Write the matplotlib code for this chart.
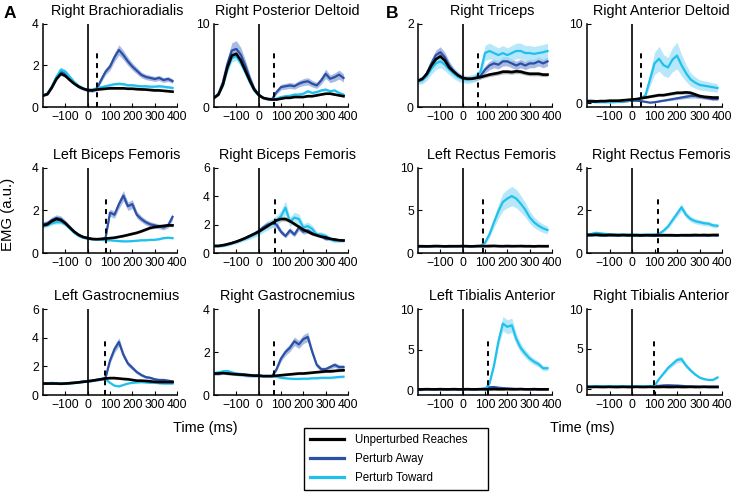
import numpy as np
import matplotlib.pyplot as plt
from matplotlib.lines import Line2D

plt.rcParams['font.family'] = ['Liberation Sans', 'DejaVu Sans']

# time axis (ms), one point every 20 ms
time_ms = [-200, -180, -160, -140, -120, -100, -80, -60, -40, -20,
           0, 20, 40, 60, 80, 100, 120, 140, 160, 180,
           200, 220, 240, 260, 280, 300, 320, 340, 360, 380]

# --- Right Brachioradialis
rbr_black = [0.55, 0.62, 0.95, 1.35, 1.6, 1.5, 1.3, 1.12, 0.98, 0.88, 0.82, 0.8, 0.84, 0.86, 0.88,
             0.9, 0.9, 0.9, 0.9, 0.88, 0.88, 0.86, 0.85, 0.84, 0.82, 0.8, 0.8, 0.78, 0.76, 0.74]
rbr_away = [0.55, 0.62, 0.95, 1.4, 1.72, 1.62, 1.38, 1.15, 0.98, 0.88, 0.8, 0.78, 0.85, 1.3, 1.7,
            1.95, 2.4, 2.75, 2.5, 2.2, 1.95, 1.75, 1.55, 1.45, 1.4, 1.35, 1.4, 1.3, 1.35, 1.25]
rbr_toward = [0.55, 0.65, 1.0, 1.45, 1.8, 1.7, 1.45, 1.2, 1.02, 0.9, 0.82, 0.84, 0.9, 0.95, 1.0,
              1.05, 1.1, 1.12, 1.1, 1.05, 1.05, 1.02, 1.0, 1.0, 0.98, 0.98, 1.0, 0.98, 0.95, 0.92]
rbr_rel_sem = [0.05, 0.09, 0.07]

# --- Right Posterior Deltoid
rpd_black = [1.1, 1.5, 2.7, 4.8, 6.2, 6.4, 5.6, 4.4, 3.2, 2.1, 1.45, 1.1, 0.95, 0.9, 0.9,
             1.0, 1.1, 1.1, 1.2, 1.2, 1.2, 1.3, 1.3, 1.4, 1.5, 1.6, 1.6, 1.5, 1.4, 1.3]
rpd_away = [1.1, 1.6, 3.0, 5.2, 6.8, 7.0, 6.3, 5.0, 3.5, 2.2, 1.5, 1.1, 1.0, 0.95, 1.8,
            2.4, 2.5, 2.6, 2.5, 2.8, 3.0, 3.1, 2.8, 2.6, 3.2, 4.0, 3.4, 3.6, 3.9, 3.5]
rpd_toward = [1.1, 1.5, 2.6, 4.5, 5.9, 6.1, 5.3, 4.2, 3.0, 2.0, 1.4, 1.1, 0.95, 0.9, 1.0,
              1.2, 1.3, 1.35, 1.5, 1.5, 1.6, 1.9, 1.7, 1.8, 2.0, 2.1, 1.9, 2.0, 1.7, 1.5]
rpd_rel_sem = [0.06, 0.14, 0.08]

# --- Right Triceps
rt_black = [0.63, 0.68, 0.8, 1.0, 1.15, 1.22, 1.12, 0.95, 0.85, 0.76, 0.7, 0.68, 0.68, 0.7, 0.72,
            0.75, 0.78, 0.8, 0.82, 0.85, 0.85, 0.84, 0.86, 0.85, 0.82, 0.8, 0.8, 0.8, 0.78, 0.78]
rt_away = [0.63, 0.66, 0.82, 1.05, 1.25, 1.32, 1.2, 1.0, 0.86, 0.76, 0.7, 0.68, 0.68, 0.7, 0.75,
           0.9, 1.0, 1.05, 1.02, 1.1, 1.1, 1.05, 1.0, 1.05, 1.0, 1.05, 1.05, 1.1, 1.05, 1.1]
rt_toward = [0.63, 0.65, 0.75, 0.92, 1.05, 1.1, 1.02, 0.9, 0.8, 0.72, 0.68, 0.66, 0.68, 0.72, 0.85,
             1.3, 1.35, 1.3, 1.25, 1.3, 1.25, 1.3, 1.35, 1.35, 1.3, 1.3, 1.28, 1.3, 1.32, 1.35]
rt_rel_sem = [0.06, 0.1, 0.14]

# --- Right Anterior Deltoid
rad_black = [0.2, 0.2, 0.2, 0.25, 0.25, 0.3, 0.3, 0.3, 0.35, 0.4, 0.45, 0.5, 0.6, 0.7, 0.8,
             0.9, 1.0, 1.0, 1.1, 1.2, 1.3, 1.3, 1.35, 1.3, 1.1, 0.9, 0.8, 0.75, 0.7, 0.7]
rad_away = [0.3, 0.3, 0.25, 0.2, 0.2, 0.15, 0.2, 0.2, 0.2, 0.25, 0.3, 0.3, 0.25, 0.15, 0.05,
            0.1, 0.2, 0.3, 0.4, 0.5, 0.6, 0.7, 0.8, 0.9, 0.9, 0.8, 0.7, 0.6, 0.5, 0.5]
rad_toward = [0.2, 0.15, 0.1, 0.1, 0.1, 0.1, 0.1, 0.15, 0.2, 0.25, 0.35, 0.45, 0.6, 1.0, 3.0,
              5.0, 5.6, 4.8, 4.5, 5.5, 6.0, 4.8, 3.8, 3.0, 2.6, 2.3, 2.2, 2.1, 2.0, 1.9]
rad_rel_sem = [0.15, 0.3, 0.28]

# --- Left Biceps Femoris
lbf_black = [1.3, 1.35, 1.5, 1.6, 1.55, 1.4, 1.2, 1.0, 0.85, 0.75, 0.7, 0.66, 0.65, 0.66, 0.68,
             0.7, 0.72, 0.76, 0.8, 0.85, 0.9, 0.95, 1.02, 1.1, 1.18, 1.22, 1.25, 1.28, 1.3, 1.3]
lbf_away = [1.35, 1.4, 1.55, 1.65, 1.6, 1.42, 1.2, 1.0, 0.85, 0.75, 0.7, 0.66, 0.65, 0.66, 0.7,
            1.9, 1.8, 2.3, 2.7, 2.2, 2.3, 1.8, 1.6, 1.45, 1.35, 1.3, 1.25, 1.2, 1.3, 1.7]
lbf_toward = [1.25, 1.3, 1.4, 1.45, 1.45, 1.35, 1.15, 0.95, 0.8, 0.72, 0.68, 0.65, 0.64, 0.62, 0.6,
              0.6, 0.58, 0.56, 0.55, 0.55, 0.56, 0.58, 0.6, 0.6, 0.62, 0.62, 0.65, 0.7, 0.72, 0.7]
lbf_rel_sem = [0.05, 0.09, 0.06]

# --- Right Biceps Femoris
rbf_black = [0.5, 0.5, 0.55, 0.62, 0.7, 0.8, 0.92, 1.05, 1.2, 1.35, 1.5, 1.7, 1.9, 2.1, 2.3,
             2.4, 2.4, 2.25, 2.05, 1.85, 1.65, 1.5, 1.35, 1.25, 1.15, 1.1, 1.0, 0.95, 0.9, 0.88]
rbf_away = [0.5, 0.5, 0.52, 0.6, 0.7, 0.8, 0.92, 1.05, 1.2, 1.35, 1.55, 1.8, 2.0, 2.1, 2.0,
            1.5, 1.2, 1.6, 1.3, 1.8, 1.5, 1.6, 1.4, 1.3, 1.2, 1.0, 1.0, 0.95, 0.9, 0.9]
rbf_toward = [0.48, 0.48, 0.5, 0.58, 0.68, 0.78, 0.9, 1.02, 1.15, 1.3, 1.45, 1.7, 1.9, 2.1, 2.3,
              2.6, 3.2, 2.2, 2.5, 2.4, 1.8, 1.9, 1.7, 1.3, 1.3, 1.2, 1.0, 0.85, 0.9, 0.9]
rbf_rel_sem = [0.06, 0.12, 0.15]

# --- Left Rectus Femoris
lrf_black = [0.8, 0.8, 0.78, 0.8, 0.82, 0.8, 0.78, 0.8, 0.8, 0.8, 0.82, 0.8, 0.78, 0.8, 0.82,
             0.8, 0.8, 0.82, 0.8, 0.8, 0.82, 0.8, 0.8, 0.82, 0.8, 0.8, 0.78, 0.8, 0.8, 0.8]
lrf_away = [0.78, 0.75, 0.8, 0.78, 0.8, 0.82, 0.8, 0.78, 0.8, 0.8, 0.8, 0.8, 0.8, 0.82, 0.8,
            0.82, 0.85, 0.85, 0.82, 0.8, 0.8, 0.8, 0.82, 0.8, 0.8, 0.8, 0.8, 0.82, 0.8, 0.8]
lrf_toward = [0.8, 0.8, 0.82, 0.8, 0.82, 0.8, 0.8, 0.82, 0.8, 0.8, 0.8, 0.8, 0.8, 0.82, 0.85,
              1.2, 2.2, 3.6, 4.9, 6.0, 6.4, 6.7, 6.4, 5.8, 5.1, 4.2, 3.6, 3.2, 2.9, 2.7]
lrf_rel_sem = [0.05, 0.06, 0.17]

# --- Right Rectus Femoris
rrf_black = [0.85, 0.85, 0.86, 0.85, 0.84, 0.85, 0.85, 0.84, 0.85, 0.84, 0.84, 0.84, 0.83, 0.84, 0.84,
             0.83, 0.84, 0.84, 0.84, 0.84, 0.83, 0.84, 0.84, 0.84, 0.85, 0.84, 0.85, 0.84, 0.85, 0.85]
rrf_away = [0.82, 0.83, 0.84, 0.82, 0.82, 0.83, 0.82, 0.82, 0.83, 0.82, 0.82, 0.82, 0.82, 0.83, 0.82,
            0.82, 0.82, 0.83, 0.82, 0.82, 0.82, 0.83, 0.82, 0.82, 0.82, 0.83, 0.82, 0.82, 0.83, 0.82]
rrf_toward = [0.88, 0.9, 0.95, 0.92, 0.9, 0.88, 0.86, 0.86, 0.86, 0.86, 0.86, 0.86, 0.86, 0.86, 0.86,
              0.88, 0.9, 1.05, 1.25, 1.55, 1.85, 2.15, 1.8, 1.6, 1.5, 1.45, 1.4, 1.38, 1.3, 1.28]
rrf_rel_sem = [0.04, 0.04, 0.08]

# --- Left Gastrocnemius
lg_black = [0.8, 0.8, 0.8, 0.8, 0.78, 0.8, 0.82, 0.85, 0.88, 0.92, 0.95, 1.0, 1.05, 1.1, 1.15,
            1.18, 1.18, 1.15, 1.12, 1.1, 1.05, 1.0, 1.0, 0.98, 0.95, 0.92, 0.9, 0.9, 0.9, 0.9]
lg_away = [0.8, 0.8, 0.82, 0.8, 0.8, 0.82, 0.84, 0.86, 0.9, 0.94, 0.98, 1.0, 1.05, 1.1, 1.2,
           2.4, 3.2, 3.7, 2.8, 2.2, 1.9, 1.6, 1.4, 1.25, 1.2, 1.1, 1.05, 1.05, 1.0, 0.95]
lg_toward = [0.82, 0.82, 0.85, 0.82, 0.8, 0.8, 0.82, 0.84, 0.88, 0.92, 0.95, 1.0, 1.05, 1.08, 1.1,
             0.85, 0.65, 0.6, 0.7, 0.8, 0.85, 0.88, 0.9, 0.88, 0.85, 0.85, 0.82, 0.8, 0.8, 0.8]
lg_rel_sem = [0.06, 0.08, 0.06]

# --- Right Gastrocnemius
rg_black = [1.0, 1.0, 1.02, 1.0, 0.98, 0.96, 0.95, 0.94, 0.92, 0.9, 0.9, 0.88, 0.88, 0.88, 0.9,
            0.92, 0.94, 0.96, 0.98, 1.0, 1.0, 1.02, 1.04, 1.06, 1.08, 1.1, 1.1, 1.12, 1.14, 1.15]
rg_away = [1.0, 1.0, 1.05, 1.02, 1.0, 0.98, 0.95, 0.92, 0.9, 0.9, 0.9, 0.88, 0.88, 0.88, 1.2,
           1.7, 2.0, 2.2, 2.5, 2.35, 2.6, 2.7, 2.0, 1.4, 1.2, 1.2, 1.3, 1.4, 1.3, 1.3]
rg_toward = [1.02, 1.05, 1.1, 1.12, 1.05, 1.0, 0.98, 0.95, 0.92, 0.9, 0.9, 0.88, 0.88, 0.88, 0.85,
             0.8, 0.78, 0.76, 0.75, 0.75, 0.76, 0.76, 0.78, 0.78, 0.8, 0.8, 0.8, 0.82, 0.84, 0.85]
rg_rel_sem = [0.05, 0.08, 0.06]

# --- Left Tibialis Anterior
lta_black = [0.1, 0.1, 0.12, 0.1, 0.1, 0.12, 0.1, 0.1, 0.12, 0.1, 0.1, 0.12, 0.1, 0.1, 0.12,
             0.1, 0.1, 0.12, 0.1, 0.1, 0.12, 0.1, 0.1, 0.12, 0.1, 0.1, 0.12, 0.1, 0.1, 0.1]
lta_away = [0.1, 0.1, 0.1, 0.12, 0.1, 0.1, 0.1, 0.12, 0.1, 0.1, 0.1, 0.12, 0.1, 0.1, 0.12,
            0.2, 0.35, 0.38, 0.3, 0.25, 0.2, 0.18, 0.15, 0.15, 0.12, 0.12, 0.1, 0.1, 0.1, 0.1]
lta_toward = [0.1, 0.1, 0.1, 0.1, 0.1, 0.1, 0.1, 0.1, 0.1, 0.1, 0.1, 0.1, 0.1, 0.1, 0.1,
              0.1, 0.8, 3.0, 6.0, 8.2, 7.8, 8.0, 6.3, 5.2, 4.5, 3.9, 3.5, 3.2, 2.7, 2.7]
lta_rel_sem = [0.5, 0.5, 0.11]

# --- Right Tibialis Anterior
rta_black = [0.2, 0.2, 0.22, 0.2, 0.2, 0.22, 0.2, 0.2, 0.22, 0.2, 0.2, 0.22, 0.2, 0.2, 0.22,
             0.2, 0.2, 0.22, 0.2, 0.2, 0.22, 0.2, 0.2, 0.22, 0.2, 0.2, 0.22, 0.2, 0.2, 0.2]
rta_away = [0.25, 0.25, 0.25, 0.27, 0.25, 0.25, 0.25, 0.27, 0.25, 0.25, 0.25, 0.27, 0.25, 0.25, 0.27,
            0.3, 0.35, 0.4, 0.42, 0.4, 0.38, 0.35, 0.3, 0.28, 0.27, 0.25, 0.25, 0.25, 0.25, 0.25]
rta_toward = [0.3, 0.3, 0.3, 0.3, 0.3, 0.3, 0.3, 0.3, 0.3, 0.3, 0.3, 0.3, 0.3, 0.3, 0.3,
              0.35, 1.2, 1.9, 2.6, 3.1, 3.6, 3.7, 2.9, 2.3, 1.8, 1.4, 1.2, 1.1, 1.1, 1.4]
rta_rel_sem = [0.3, 0.3, 0.1]

titles = ["Right Brachioradialis", "Right Posterior Deltoid", "Right Triceps", "Right Anterior Deltoid",
          "Left Biceps Femoris", "Right Biceps Femoris", "Left Rectus Femoris", "Right Rectus Femoris",
          "Left Gastrocnemius", "Right Gastrocnemius", "Left Tibialis Anterior", "Right Tibialis Anterior"]
black_traces = [rbr_black, rpd_black, rt_black, rad_black, lbf_black, rbf_black,
                lrf_black, rrf_black, lg_black, rg_black, lta_black, rta_black]
away_traces = [rbr_away, rpd_away, rt_away, rad_away, lbf_away, rbf_away,
               lrf_away, rrf_away, lg_away, rg_away, lta_away, rta_away]
toward_traces = [rbr_toward, rpd_toward, rt_toward, rad_toward, lbf_toward, rbf_toward,
                 lrf_toward, rrf_toward, lg_toward, rg_toward, lta_toward, rta_toward]
rel_sems = [rbr_rel_sem, rpd_rel_sem, rt_rel_sem, rad_rel_sem, lbf_rel_sem, rbf_rel_sem,
            lrf_rel_sem, rrf_rel_sem, lg_rel_sem, rg_rel_sem, lta_rel_sem, rta_rel_sem]
y_limits = [(0, 4), (0, 10), (0, 2), (-0.5, 10), (0, 4), (0, 6),
            (0, 10), (0, 4), (0, 6), (0, 4), (-0.6, 10), (-0.8, 10)]
y_ticks = [[0, 2, 4], [0, 10], [0, 2], [0, 10], [0, 2, 4], [0, 2, 4, 6],
           [0, 5, 10], [0, 2, 4], [0, 2, 4, 6], [0, 2, 4], [0, 5, 10], [0, 5, 10]]
dash_ms = [40, 70, 70, 40, 80, 75, 93, 115, 78, 68, 112, 98]
x_ticks = [-100, 0, 100, 200, 300, 400]

legend_labels = ["Unperturbed Reaches", "Perturb Away", "Perturb Toward"]

C_BLACK, C_AWAY, C_TOWARD = "#000000", "#2c50a5", "#1ec1ee"
B_BLACK, B_AWAY, B_TOWARD = "#9c9c9c", "#8ea5da", "#9fe0f6"

W, H = 737, 494
fig = plt.figure(figsize=(W / 100, H / 100), dpi=100)

# axes boxes in pixels: (left, right) per column, (top, bottom) per row
cols = [(43, 177), (214, 348), (418, 552), (587, 722)]
rows = [(24, 107), (168, 253), (309, 395)]

t = np.array(time_ms)
for i in range(12):
    r, c = divmod(i, 4)
    x0, x1 = cols[c]
    y0, y1 = rows[r]
    ax = fig.add_axes([x0 / W, 1 - y1 / H, (x1 - x0) / W, (y1 - y0) / H])

    rb, ra, rt = rel_sems[i]
    for vals, s, bc in [(black_traces[i], rb, B_BLACK), (away_traces[i], ra, B_AWAY),
                        (toward_traces[i], rt, B_TOWARD)]:
        v = np.array(vals)
        ax.fill_between(t, v * (1 - s), v * (1 + s), color=bc, lw=0, alpha=0.75)
    ax.plot(t, away_traces[i], color=C_AWAY, lw=1.6)
    ax.plot(t, toward_traces[i], color=C_TOWARD, lw=1.6)
    ax.plot(t, black_traces[i], color=C_BLACK, lw=1.9)

    ax.axvline(0, color="black", lw=1.2)
    ax.axvline(dash_ms[i], ymin=0, ymax=0.68, color="black", lw=1.4, linestyle=(0, (2.6, 2.4)))

    ax.set_xlim(-200, 400)
    ax.set_ylim(*y_limits[i])
    ax.set_xticks(x_ticks)
    ax.set_yticks(y_ticks[i])
    ax.tick_params(direction="in", length=3, width=0.8, labelsize=8.7, pad=3)
    for side in ["top", "right"]:
        ax.spines[side].set_visible(False)
    for side in ["left", "bottom"]:
        ax.spines[side].set_linewidth(1.1)
    ax.set_title(titles[i], fontsize=10.4, x=0.55, pad=6.5)

fig.text(4 / W, 1 - 18 / H, "A", fontsize=12.5, fontweight="bold", va="baseline")
fig.text(386 / W, 1 - 18 / H, "B", fontsize=12.5, fontweight="bold", va="baseline")
fig.text(8 / W, 1 - 214 / H, "EMG (a.u.)", fontsize=10.8, rotation=90, ha="center", va="center")
fig.text(205 / W, 1 - 428 / H, "Time (ms)", fontsize=10.4, ha="center", va="center")
fig.text(582 / W, 1 - 428 / H, "Time (ms)", fontsize=10.4, ha="center", va="center")

handles = [Line2D([], [], color=C_BLACK, lw=2.3),
           Line2D([], [], color=C_AWAY, lw=2.3),
           Line2D([], [], color=C_TOWARD, lw=2.3)]
leg = fig.legend(handles, legend_labels, loc="upper left",
                 bbox_to_anchor=(304 / W, 1 - 493 / H, 184 / W, 65 / H), mode="expand",
                 fontsize=8.3, frameon=True, fancybox=False, edgecolor="black", framealpha=1,
                 handlelength=2.9, handletextpad=1.0, labelspacing=0.58, borderpad=0.55,
                 borderaxespad=0)
leg.get_frame().set_linewidth(1.0)

fig.savefig("out.png", dpi=100)
